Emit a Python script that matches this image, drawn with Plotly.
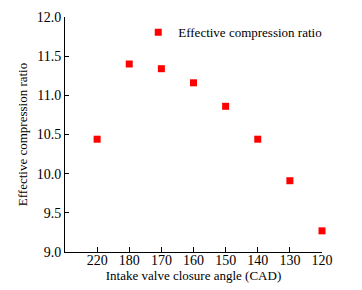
import plotly.graph_objects as go

angles = ["220", "180", "170", "160", "150", "140", "130", "120"]
ecr = [10.44, 11.40, 11.34, 11.16, 10.86, 10.44, 9.91, 9.27]
y_ticks = [9.0, 9.5, 10.0, 10.5, 11.0, 11.5, 12.0]

idx = list(range(len(angles)))
fam = "Liberation Serif, Times New Roman, serif"
font = dict(family=fam, size=13, color="black")
tickfont = dict(family=fam, size=14, color="black")

fig = go.Figure()
fig.add_trace(go.Scatter(
    x=idx, y=ecr, mode="markers", name="Effective compression ratio",
    marker=dict(symbol="square", size=7, color="#ff0000"),
    cliponaxis=False,
))
fig.update_layout(
    width=354, height=282,
    margin=dict(l=57, r=40, t=9, b=38),
    paper_bgcolor="white", plot_bgcolor="white",
    font=font,
    showlegend=True,
    legend=dict(x=0.285, y=0.935, xanchor="left", yanchor="middle",
                bgcolor="rgba(0,0,0,0)", font=dict(family=fam, size=13, color="black"),
                itemwidth=30),
)
fig.update_xaxes(
    range=[-1, 7], tickvals=idx, ticktext=angles, tickfont=tickfont,
    ticklabelstandoff=-5,
    showline=True, linecolor="black", linewidth=1,
    ticks="inside", ticklen=5, tickcolor="black",
    showgrid=False, zeroline=False, automargin=False,
    title=dict(text="Intake valve closure angle (CAD)", standoff=0,
               font=dict(family=fam, size=13, color="black")),
)
fig.update_yaxes(
    range=[9.0, 12.0], tickvals=y_ticks, tickfont=tickfont,
    tickformat=".1f",
    showline=True, linecolor="black", linewidth=1,
    ticks="inside", ticklen=4, tickcolor="black",
    showgrid=False, zeroline=False, automargin=False,
    title=dict(text="Effective compression ratio", standoff=6,
               font=dict(family=fam, size=13, color="black")),
)
fig.write_html("out.html")
